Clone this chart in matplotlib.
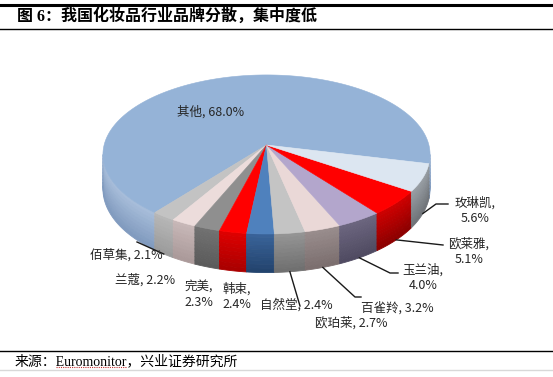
import numpy as np
import matplotlib
matplotlib.use("Agg")
import matplotlib.pyplot as plt
from matplotlib.colors import to_rgb

plt.rcParams['font.family'] = ['Noto Sans CJK SC', 'DejaVu Sans']

# ---------------- data ----------------
brands = ["其他", "佰草集", "兰蔻", "完美", "韩束", "自然堂",
          "欧珀莱", "百雀羚", "玉兰油", "欧莱雅", "玫琳凯"]
shares = [68.0, 2.1, 2.2, 2.3, 2.4, 2.4, 2.7, 3.2, 4.0, 5.1, 5.6]

title = "图 6：我国化妆品行业品牌分散，集中度低"
source = "来源：Euromonitor，兴业证券研究所"

# ---------------- styles ----------------
top_colors = ["#95b3d7", "#c3c3c3", "#ecdcdb", "#8f8f8f", "#ff0000", "#4f81bd",
              "#c4c4c4", "#ead8d7", "#b3a6cc", "#ff0000", "#dce6f1"]
side_hi = ["#a9bfdc", "#b8b8b8", "#c9b9b9", "#727272", "#e00000", "#3a649a",
           "#969696", "#9a8e8e", "#6c6680", "#d00000", "#9aa0a6"]
side_lo = ["#7f99bd", "#9a9a9a", "#a99898", "#5a5a5a", "#a80000", "#22426c",
           "#6e6e6e", "#7a6d6d", "#4f4a60", "#8a0000", "#6e7277"]

# label layout (figure pixels), leader end points
label_pos = {"其他": (211, 112), "佰草集": (126, 255), "兰蔻": (145, 280),
             "完美": (199, 295), "韩束": (237, 297), "自然堂": (296, 305),
             "欧珀莱": (351, 323), "百雀羚": (397, 308), "玉兰油": (423, 278),
             "欧莱雅": (469, 252), "玫琳凯": (475, 211)}
two_line = {"完美", "韩束", "玉兰油", "欧莱雅", "玫琳凯"}
leaders = {"佰草集": [(137, 242)],
           "欧珀莱": [(300, 306)],
           "百雀羚": [(355, 297), (361, 297)],
           "玉兰油": [(390, 273), (398, 273)],
           "欧莱雅": [(443, 245)],
           "玫琳凯": [(436, 204), (448, 204)]}

W, H = 553, 377
fig = plt.figure(figsize=(W / 100, H / 100), dpi=100)
ax = fig.add_axes([0, 0, 1, 1])
ax.set_xlim(0, W)
ax.set_ylim(H, 0)
ax.axis("off")

# pie geometry (pixels), simple perspective: far side shrinks
cx, cy = 266.5, 145.0
sx_r, sy_r = 162.4, 78.4
alpha = 0.119
depth = 34.0
start = -13.4

vals = np.array(shares)
ang = start + np.concatenate([[0], np.cumsum(vals)]) / vals.sum() * 360.0


def proj(t, r=1.0, dz=0.0):
    t = np.radians(t)
    w = 1 + alpha * r * np.sin(t)
    return cx + sx_r * r * np.cos(t) / w, cy + (-sy_r * r * np.sin(t) + dz) / w


def mix(c1, c2, f):
    a, b = np.array(to_rgb(c1)), np.array(to_rgb(c2))
    return a + (b - a) * f


# side faces (front part only, between silhouette points)
sil = np.degrees(np.arcsin(alpha))
nb = 10
for i in range(len(vals)):
    a0, a1 = ang[i], ang[i + 1]
    for lo, hi in [(180 + sil, 360 - sil), (-180 + sil, -sil), (540 + sil, 720 - sil)]:
        s, e = max(a0, lo), min(a1, hi)
        if e <= s:
            continue
        t = np.linspace(s, e, 60)
        for k in range(nb):
            z0, z1 = depth * k / nb, depth * (k + 1) / nb
            x0, y0 = proj(t, dz=z0)
            x1, y1 = proj(t[::-1], dz=z1)
            c = mix(side_hi[i], side_lo[i], (k + 0.5) / nb)
            ax.fill(np.r_[x0, x1], np.r_[y0, y1], color=c, lw=0.6, ec=c)

# top faces
for i in range(len(vals)):
    t = np.linspace(ang[i], ang[i + 1], 200)
    x, y = proj(t)
    ax.fill(np.r_[cx, x], np.r_[cy, y], color=top_colors[i],
            ec=top_colors[i], lw=0.4)

# labels
for i, b in enumerate(brands):
    sep = ",\n" if b in two_line else ", "
    ax.text(*label_pos[b], f"{b}{sep}{shares[i]:.1f}%", fontsize=9,
            color="#262626", ha="center", va="center", linespacing=1.25)
    if b in leaders:
        mid = (ang[i] + ang[i + 1]) / 2
        p = proj(mid, dz=depth)
        pts = [p] + leaders[b]
        ax.plot([q[0] for q in pts], [q[1] for q in pts], color="#1a1a1a", lw=1.0)

# header / footer
serif_cjk = ['Liberation Serif', 'Noto Sans CJK SC']
ax.plot([0, W], [5, 5], color="black", lw=2.2)
ax.plot([0, W], [28.5, 28.5], color="black", lw=1.0)
ax.text(17, 17, title, fontsize=11.5, fontweight="bold", va="center", ha="left",
        family=serif_cjk)
ax.plot([0, W], [351, 351], color="black", lw=1.0)
ax.plot([0, W], [369.5, 369.5], color="#d8d8d8", lw=1.0)
ax.text(15, 361, source, fontsize=10, va="center", ha="left", family=serif_cjk)
ax.plot([56, 127], [366.5, 366.5], color="#c03030", lw=0.8, ls=(0, (1, 1)))

fig.savefig("out.png", dpi=100)
